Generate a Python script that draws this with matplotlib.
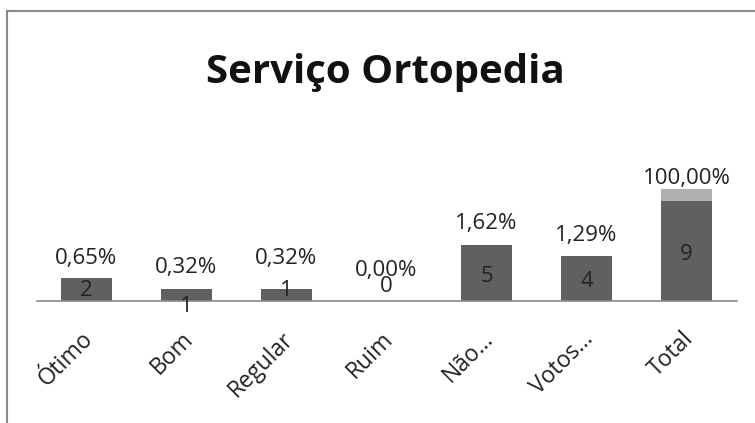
import matplotlib
matplotlib.use("Agg")
import matplotlib.pyplot as plt
from matplotlib.patches import Rectangle
from matplotlib.transforms import ScaledTranslation

# Survey results for the orthopaedics service
categories = ["Ótimo", "Bom", "Regular", "Ruim", "Não...", "Votos...", "Total"]
counts = [2, 1, 1, 0, 5, 4, 9]
shares = [0.0065, 0.0032, 0.0032, 0.0000, 0.0162, 0.0129, 1.0000]
share_labels = ["0,65%", "0,32%", "0,32%", "0,00%", "1,62%", "1,29%", "100,00%"]

DARK = "#606060"
LIGHT = "#b0b0b0"
LINE = "#8a8a8a"
FONT = "Open Sans"

W, H = 755, 423
fig = plt.figure(figsize=(W / 100, H / 100), dpi=100)

# chart frame (runs off the right and bottom edges)
fig.patches.append(Rectangle((7 / W, -0.1), 1.2, (H - 11.5) / H + 0.1,
                             transform=fig.transFigure, fill=False,
                             edgecolor=LINE, linewidth=1.5))

x0, x1 = 36.5, 736.5
y_base = 300.5
px_per_unit = 11.1
ymax = 12
ax = fig.add_axes([x0 / W, 1 - y_base / H, (x1 - x0) / W,
                   ymax * px_per_unit / H])
ax.set_xlim(-0.5, len(categories) - 0.5)
ax.set_ylim(0, ymax)

xs = list(range(len(categories)))
ax.bar(xs, counts, width=0.51, color=DARK, zorder=2)
ax.bar(xs, shares, width=0.51, bottom=counts, color=LIGHT, zorder=2)

for s in ["top", "right", "left"]:
    ax.spines[s].set_visible(False)
ax.spines["bottom"].set_color(LINE)
ax.spines["bottom"].set_linewidth(1.2)
ax.set_yticks([])
ax.set_xticks(xs)
ax.set_xticklabels(categories, rotation=45, ha="right", rotation_mode="anchor",
                   fontsize=16.5, family=FONT, color="#222222")
ax.tick_params(axis="x", length=0, pad=19)
shift = ScaledTranslation(-5 / 100, 0, fig.dpi_scale_trans)
for lab in ax.get_xticklabels():
    lab.set_transform(lab.get_transform() + shift)

# count labels: centred in the bar, nudged where they would collide
count_nudge = [-1, -12, 4, 14, -4, -3, -4]
for x, c, dy in zip(xs, counts, count_nudge):
    ax.annotate(str(c), (x, c / 2), xytext=(0, dy * 0.72),
                textcoords="offset points", ha="center", va="center",
                fontsize=16, family=FONT, color="#222222", zorder=3)

# percentage labels above each stack
share_gap = [20, 22, 31, 30, 21, 20, 11]
for x, c, s, lab, g in zip(xs, counts, shares, share_labels, share_gap):
    ax.annotate(lab, (x, c + s), xytext=(0, g * 0.72),
                textcoords="offset points", ha="center", va="center",
                fontsize=16, family=FONT, color="#222222", zorder=3,
                annotation_clip=False)

fig.text(385 / W, 1 - 72 / H, "Serviço Ortopedia", ha="center", va="center",
         fontsize=29, fontweight="bold", family=FONT, color="#111111")

fig.savefig("out.png", dpi=100)
